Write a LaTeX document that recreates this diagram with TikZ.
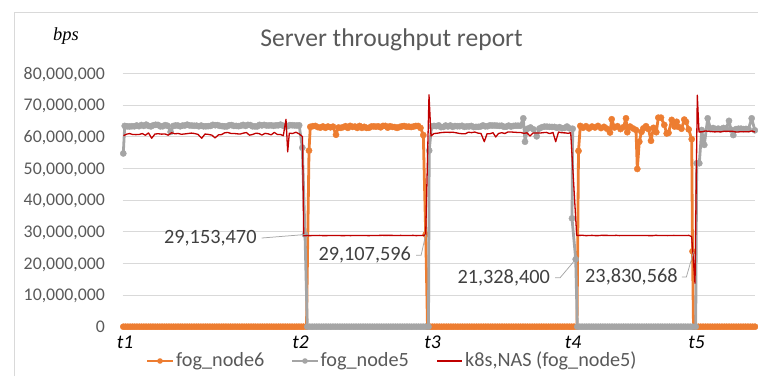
\documentclass[tikz,border=0pt]{standalone}
\usepackage{fontspec}
\setmainfont{Carlito}
\newfontfamily\serifit{Liberation Serif}
\definecolor{ser6}{HTML}{ED7D31}
\definecolor{ser5}{HTML}{A5A5A5}
\definecolor{serk}{HTML}{C00000}
\definecolor{gridc}{HTML}{D9D9D9}
\definecolor{txt}{HTML}{595959}
\definecolor{lbl}{HTML}{404040}
\definecolor{leadc}{HTML}{A6A6A6}
\begin{document}
\begin{tikzpicture}[x=1pt,y=-1pt,
  gridline/.style={gridc, line width=0.9pt},
  ylab/.style={anchor=base east, inner sep=0pt, text=txt, font=\fontsize{17.8}{20}\selectfont},
  tlab/.style={anchor=base, inner sep=0pt, text=black, font=\fontsize{19.5}{22}\selectfont\itshape},
  dlab/.style={inner sep=0pt, text=lbl, font=\fontsize{20.3}{23}\selectfont},
  legt/.style={anchor=base west, inner sep=0pt, text=txt, font=\fontsize{20.2}{23}\selectfont},
  leader/.style={leadc, line width=0.75pt},
  thickser/.style={line width=2.8pt, line join=round, line cap=round, mark=*, mark size=3.1pt,
    mark options={line width=0.4pt}},
  redser/.style={serk, line width=1.3pt, line join=round},
]
\useasboundingbox (0,0) rectangle (758,376);
% chart frame
\draw[gridc, line width=0.9pt] (14.5,376) -- (14.5,12.7) -- (758,12.7);

% title and unit
\node[anchor=base, inner sep=0pt, text=txt, font=\fontsize{25.6}{28}\selectfont] (title) at (391.5,46.7) {Server throughput report};
\node[anchor=base west, inner sep=0pt, font=\serifit\itshape\fontsize{18.5}{20}\selectfont] (unit) at (53,40) {bps};

% value axis labels
\node[ylab] (yl0) at (105,332.5) {0};
\foreach \k in {1,...,8}{
  \node[ylab] (yl\k) at (105,{326.7-31.675*\k+5.8}) {\k0,000,000};
}

% time labels
\node[tlab] (t1) at (125,348) {t1};
\node[tlab] (t2) at (300.5,348) {t2};
\node[tlab] (t3) at (432.5,348) {t3};
\node[tlab] (t4) at (573,348) {t4};
\node[tlab] (t5) at (696.5,348) {t5};

\pgfmathsetseed{11}
\begin{scope}[yshift=-326.7pt, y=3.1675pt]
  % grid
  \foreach \k in {0,...,8}{
    \draw[gridline] (122.7,\k*10) -- (755,\k*10);
  }
  % fog_node6
  \draw[ser6, thickser]
    plot[domain=123.3:303.5, samples=80] (\x,0)
    -- plot coordinates {(306.5,0) (309,55.6) (310.3,63.1)}
    -- plot[domain=312.8:333, samples=9] (\x,{63.1+0.35*rand})
    -- plot coordinates {(336,60.6)}
    -- plot[domain=338.5:420.5, samples=36] (\x,{63.1+0.35*rand})
    -- plot coordinates {(423.3,60.5) (425.7,29.1) (427.5,0)}
    -- plot[domain=430:574, samples=63] (\x,0)
    -- plot coordinates {(577,0) (578.5,55.5) (580.3,63.4) (583,62.8) (586,63.3) (589,62.6)
       (592,63.2) (595,62.9) (598,63.4) (601,62.7) (604,63.1) (607,62.5) (610,61.3)
       (611.7,65.5) (614.5,62.9) (617.5,63.3) (620.5,62.4) (623.5,63) (626,65.8)
       (627.3,61.4) (630,63.2) (633,62.6) (636,62.1) (637.3,49.8) (639.3,58.4)
       (641.5,61.5) (643.3,62.6) (646,63.3) (648.5,62.4) (651,58.7) (653.5,62.8)
       (656.3,61.4) (658.3,66) (661,66) (664.3,63.7) (666.7,61) (668.5,61.2)
       (671.7,65.3) (674.5,63.2) (676.7,64.7) (678.3,63.1) (681.5,62.5) (684.3,65.4)
       (686,64.7) (688.7,62.3) (691.7,59.2) (692.5,23.8) (693.5,0)}
    -- plot[domain=696:755, samples=26] (\x,0);
  % fog_node5
  \draw[ser5, thickser]
    plot coordinates {(123.3,54.7) (124.7,63.4)}
    -- plot[domain=127.2:167.5, samples=18] (\x,{63.5+0.3*rand})
    -- plot coordinates {(170.6,61.5)}
    -- plot[domain=173.2:299.2, samples=55] (\x,{63.5+0.3*rand})
    -- plot coordinates {(302.3,56.5) (305,29.1) (307.3,0)}
    -- plot[domain=309.8:425.5, samples=51] (\x,0)
    -- plot coordinates {(428.5,0) (429.2,55.6) (431.5,63.2)}
    -- plot[domain=434:520.3, samples=38] (\x,{63.3+0.3*rand})
    -- plot coordinates {(523.3,65.8) (525,58.4) (527.5,62.5) (530.5,62.9) (533.5,62.3)
       (536.7,60.1) (539.5,62.6)}
    -- plot[domain=542:569.5, samples=12] (\x,{62.9+0.3*rand})
    -- plot coordinates {(572.7,62.5) (572,34.2) (575.7,21.3) (577.3,0)}
    -- plot[domain=579.8:692.5, samples=50] (\x,0)
    -- plot coordinates {(695.7,0) (696.7,51.6) (699.3,51.6) (701.7,62.1) (704.3,57.4)
       (707.7,65.8) (710.5,62.4)}
    -- plot[domain=713:726, samples=6] (\x,{62.5+0.3*rand})
    -- plot coordinates {(729,65) (731,62.2) (733.3,60.5) (736,62.4)}
    -- plot[domain=738.5:748.5, samples=5] (\x,{62.5+0.3*rand})
    -- plot coordinates {(751.7,65.8) (754.8,62)};
  % k8s,NAS (fog_node5)
  \draw[redser]
    (123.5,60.3)
    -- plot[domain=126.5:148.5, samples=8] (\x,{60.9+0.45*rand})
    -- (151.7,59.5)
    -- plot[domain=155:198, samples=14] (\x,{60.9+0.45*rand})
    -- (201.7,59.5)
    -- plot[domain=205:212, samples=3] (\x,{60.9+0.45*rand})
    -- (215,59.6)
    -- plot[domain=218.5:280.5, samples=21] (\x,{60.9+0.45*rand})
    -- (283.3,60.3) -- (286,65.5) -- (287.7,55.2) -- (289.3,61.1) -- (292.5,61)
    -- (296,61.4) -- (299.5,60.8) -- (302.5,60) -- (303.7,28.7)
    -- plot[domain=307:422.5, samples=38] (\x,{28.8+0.06*rand})
    -- (425.7,29) -- (429,73.2) -- (431,60.2)
    -- plot[domain=434:481, samples=16] (\x,{61.2+0.3*rand})
    -- (484.3,58.4)
    -- plot[domain=487:493, samples=3] (\x,{61.2+0.3*rand})
    -- (495.7,59.9)
    -- plot[domain=498.5:527, samples=10] (\x,{61.2+0.3*rand})
    -- (530,60.2)
    -- plot[domain=533:553, samples=7] (\x,{61.2+0.3*rand})
    -- (555.7,58.4)
    -- plot[domain=558.5:568.5, samples=4] (\x,{61.2+0.3*rand})
    -- (570.7,61.3) -- (576.7,28.8)
    -- plot[domain=580:689, samples=37] (\x,{28.8+0.06*rand})
    -- (691.7,28.4) -- (695,13.7) -- (697.3,73.1) -- (699,61.5)
    -- plot[domain=702:755, samples=18] (\x,{61.6+0.2*rand});
  % points carrying data labels
  \coordinate (d1) at (305,29.1);
  \coordinate (d2) at (425.7,29.1);
  \coordinate (d3) at (575.7,21.3);
  \coordinate (d4) at (693.5,23.6);
\end{scope}

% data labels
\node[dlab, anchor=base east] (lab1) at (256.7,243.3) {29,153,470};
\node[dlab, anchor=base west] (lab2) at (318.3,260.7) {29,107,596};
\node[dlab, anchor=base west] (lab3) at (457.3,283.3) {21,328,400};
\node[dlab, anchor=base west] (lab4) at (585,282.7) {23,830,568};
\draw[leader] ([xshift=5pt]lab1.east) -- (d1);
\draw[leader] ([xshift=5pt]lab2.east) -- ++(5,0) -- (d2);
\draw[leader] ([xshift=5pt]lab3.east) -- ++(5,0) -- (d3);
\draw[leader] ([xshift=4pt]lab4.east) -- ++(4.5,0) -- (d4);

% legend
\draw[ser6, line width=2.8pt] (147,361) -- (173,361);
\fill[ser6] (160,361) circle (2.8pt);
\node[legt] (lg6) at (176,366.3) {fog\_node6};
\draw[ser5, line width=2.8pt] (292,361) -- (318,361);
\fill[ser5] (305,361) circle (2.8pt);
\node[legt] (lg5) at (320.5,366.3) {fog\_node5};
\draw[serk, line width=1.3pt] (437,361) -- (462,361);
\node[legt] (lgk) at (465,366.3) {k8s,NAS (fog\_node5)};
\end{tikzpicture}
\end{document}
